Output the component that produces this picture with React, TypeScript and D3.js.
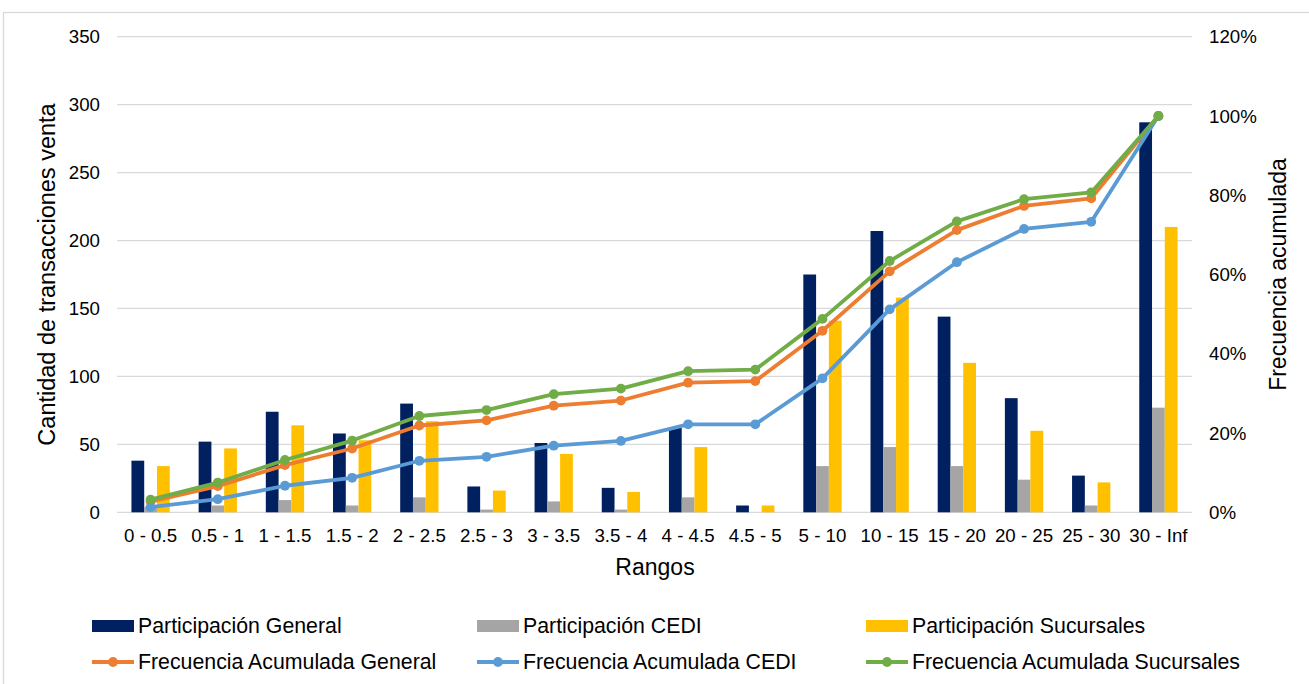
import React from "react";
import * as d3 from "d3";

// Transaction ranges
const categories = [
  "0 - 0.5", "0.5 - 1", "1 - 1.5", "1.5 - 2", "2 - 2.5", "2.5 - 3", "3 - 3.5", "3.5 - 4",
  "4 - 4.5", "4.5 - 5", "5 - 10", "10 - 15", "15 - 20", "20 - 25", "25 - 30", "30 - Inf",
];

// Bar series (count of sale transactions)
const participacionGeneral = [38, 52, 74, 58, 80, 19, 51, 18, 62, 5, 175, 207, 144, 84, 27, 287];
const participacionCEDI = [4, 5, 9, 5, 11, 2, 8, 2, 11, 0, 34, 48, 34, 24, 5, 77];
const participacionSucursales = [34, 47, 64, 53, 67, 16, 43, 15, 48, 5, 141, 158, 110, 60, 22, 210];

// Cumulative frequency series (percent)
const frecuenciaGeneral = [2.7, 6.6, 11.9, 16.1, 21.9, 23.2, 26.9, 28.2, 32.7, 33.1, 45.8, 60.8, 71.2, 77.3, 79.2, 100];
const frecuenciaCEDI = [1.3, 3.3, 6.7, 8.7, 13.0, 14.0, 16.8, 18.0, 22.2, 22.2, 33.8, 51.2, 63.1, 71.5, 73.3, 100];
const frecuenciaSucursales = [3.2, 7.5, 13.2, 18.1, 24.3, 25.8, 29.8, 31.2, 35.6, 36.0, 48.8, 63.4, 73.4, 79.0, 80.7, 100];

// Axis ticks
const leftTicks = [0, 50, 100, 150, 200, 250, 300, 350];
const rightTicks = [0, 20, 40, 60, 80, 100, 120];

const W = 1309;
const H = 684;
const FONT = "'Liberation Sans', Arial, sans-serif";

const barSeries = [
  { name: "Participación General", values: participacionGeneral, color: "#002060" },
  { name: "Participación CEDI", values: participacionCEDI, color: "#A5A5A5" },
  { name: "Participación Sucursales", values: participacionSucursales, color: "#FFC000" },
];

const lineSeries = [
  { name: "Frecuencia Acumulada General", values: frecuenciaGeneral, color: "#ED7D31" },
  { name: "Frecuencia Acumulada CEDI", values: frecuenciaCEDI, color: "#5B9BD5" },
  { name: "Frecuencia Acumulada Sucursales", values: frecuenciaSucursales, color: "#70AD47" },
];

export default function App() {
  const left = 117;
  const right = 1192;
  const top = 36.7;
  const bottom = 512.3;

  const x = d3.scaleBand<string>().domain(categories).range([left, right]).padding(0);
  const band = x.bandwidth();
  const groupW = band * 0.57;
  const xs = d3
    .scaleBand<string>()
    .domain(barSeries.map((s) => s.name))
    .range([0, groupW])
    .padding(0);

  const yL = d3.scaleLinear().domain([0, 350]).range([bottom, top]);
  const yR = d3.scaleLinear().domain([0, 120]).range([bottom, top]);

  const cx = (c: string) => (x(c) as number) + band / 2;

  const line = d3
    .line<number>()
    .x((_, i) => cx(categories[i]))
    .y((v) => yR(v));

  const legendCols = [92, 477, 866];
  const legendRows = [626, 662];
  const swW = 42;

  return (
    <svg
      width={W}
      height={H}
      style={{ position: "absolute", left: 0, top: 0, background: "#fff" }}
      fontFamily={FONT}
    >
      <rect x={3.5} y={12.5} width={1330} height={700} fill="#fff" stroke="#D9D9D9" strokeWidth={1.3} />

      {/* gridlines */}
      {leftTicks.map((t) => (
        <line key={t} x1={left} x2={right} y1={yL(t)} y2={yL(t)} stroke="#D9D9D9" strokeWidth={1.3} />
      ))}

      {/* left tick labels */}
      {leftTicks.map((t) => (
        <text key={t} x={100} y={yL(t)} dy="0.35em" textAnchor="end" fontSize={18.7} fill="#000">
          {t}
        </text>
      ))}

      {/* right tick labels */}
      {rightTicks.map((t) => (
        <text key={t} x={1209} y={yR(t)} dy="0.35em" textAnchor="start" fontSize={18.7} fill="#000">
          {t + "%"}
        </text>
      ))}

      {/* bars */}
      {barSeries.map((s) => (
        <g key={s.name}>
          {s.values.map((v, i) => {
            const c = categories[i];
            const bx = cx(c) - groupW / 2 + (xs(s.name) as number);
            return (
              <rect
                key={c}
                x={bx}
                y={yL(v)}
                width={xs.bandwidth()}
                height={yL(0) - yL(v)}
                fill={s.color}
              />
            );
          })}
        </g>
      ))}

      {/* cumulative lines */}
      {lineSeries.map((s) => (
        <g key={s.name}>
          <path d={line(s.values) || ""} fill="none" stroke={s.color} strokeWidth={3.8} strokeLinejoin="round" />
          {s.values.map((v, i) => (
            <circle key={i} cx={cx(categories[i])} cy={yR(v)} r={4.9} fill={s.color} />
          ))}
        </g>
      ))}

      {/* x tick labels */}
      {categories.map((c) => (
        <text key={c} x={cx(c)} y={542} textAnchor="middle" fontSize={18.7} fill="#000">
          {c}
        </text>
      ))}

      {/* axis titles */}
      <text x={655} y={575} textAnchor="middle" fontSize={23} fill="#000">
        Rangos
      </text>
      <text
        transform={`translate(47, ${(top + bottom) / 2}) rotate(-90)`}
        textAnchor="middle"
        dominantBaseline="central"
        fontSize={23.5}
        fill="#000"
      >
        Cantidad de transacciones venta
      </text>
      <text
        transform={`translate(1278, ${(top + bottom) / 2}) rotate(-90)`}
        textAnchor="middle"
        dominantBaseline="central"
        fontSize={23}
        fill="#000"
      >
        Frecuencia acumulada
      </text>

      {/* legend */}
      {barSeries.map((s, i) => (
        <g key={s.name} transform={`translate(${legendCols[i]}, ${legendRows[0]})`}>
          <rect x={0} y={-6} width={swW} height={12} fill={s.color} />
          <text x={swW + 4} y={0} dy="0.35em" fontSize={21.3} fill="#000">
            {s.name}
          </text>
        </g>
      ))}
      {lineSeries.map((s, i) => (
        <g key={s.name} transform={`translate(${legendCols[i]}, ${legendRows[1]})`}>
          <line x1={0} x2={swW} y1={0} y2={0} stroke={s.color} strokeWidth={3.8} />
          <circle cx={swW / 2} cy={0} r={4.9} fill={s.color} />
          <text x={swW + 4} y={0} dy="0.35em" fontSize={21.3} fill="#000">
            {s.name}
          </text>
        </g>
      ))}
    </svg>
  );
}
